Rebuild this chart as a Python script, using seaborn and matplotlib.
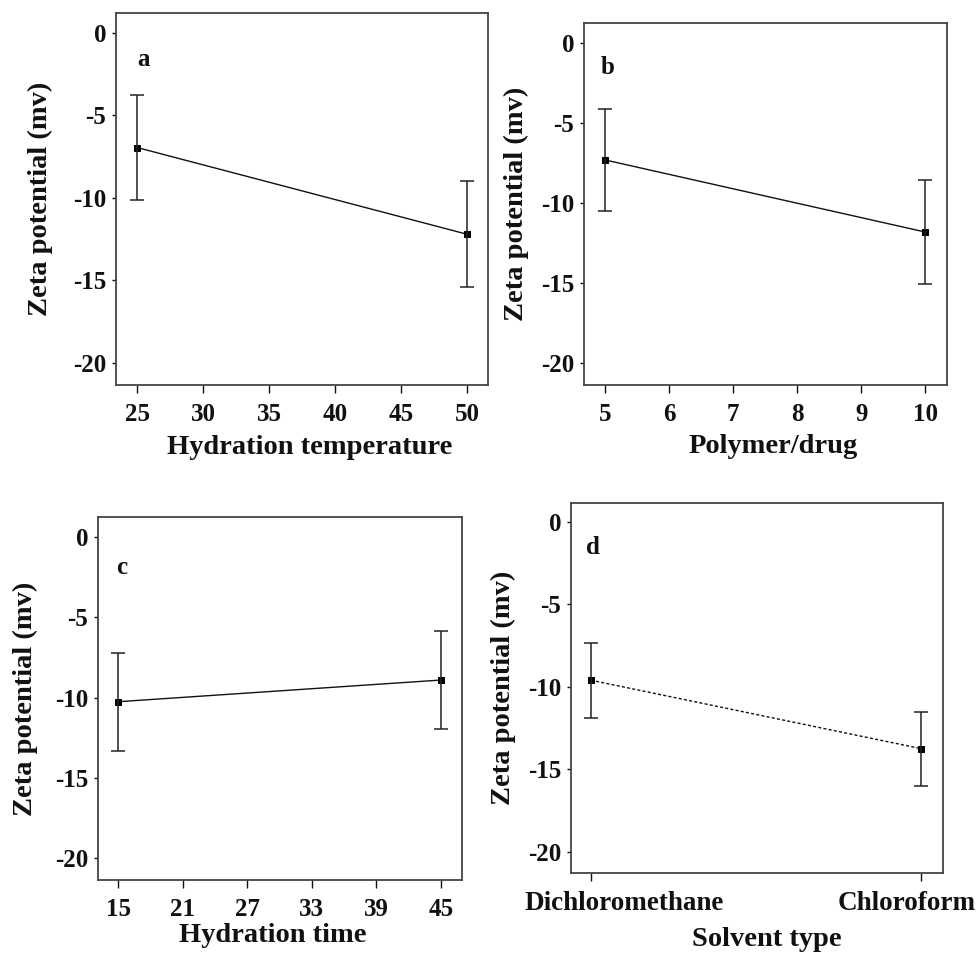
import matplotlib
matplotlib.use("Agg")
import matplotlib.pyplot as plt
import matplotlib.transforms as mtransforms
import seaborn as sns
import numpy as np

# ---- data ----
temp_x = [25, 50]
temp_y = [-6.95, -12.2]
temp_err = [3.2, 3.2]

ratio_x = [5, 10]
ratio_y = [-7.3, -11.8]
ratio_err = [3.2, 3.25]

time_x = [15, 45]
time_y = [-10.25, -8.9]
time_err = [3.05, 3.05]

solvents = ["Dichloromethane", "Chloroform"]
solvent_y = [-9.6, -13.75]
solvent_err = [2.27, 2.25]

yticks = [0, -5, -10, -15, -20]
temp_ticks = [25, 30, 35, 40, 45, 50]
ratio_ticks = [5, 6, 7, 8, 9, 10]
time_ticks = [15, 21, 27, 33, 39, 45]

sns.set_theme(style="white")
plt.rcParams['font.family'] = ['Liberation Serif', 'DejaVu Serif']
plt.rcParams['font.weight'] = 'bold'
plt.rcParams['axes.unicode_minus'] = False

fig = plt.figure(figsize=(9.8, 9.6), dpi=100)

panels = [
    dict(rect=[0.1184, 0.599, 0.3796, 0.3875], x=temp_x, y=temp_y, err=temp_err,
         xticks=temp_ticks, xlim=(23.4, 51.6), ylim=(-21.33, 1.2), letter="a",
         xlabel="Hydration temperature", ls="-", lpos=(0.075, 0.876),
         xl=(0.52, -0.167), yl=-0.204),
    dict(rect=[0.5959, 0.599, 0.3704, 0.377], x=ratio_x, y=ratio_y, err=ratio_err,
         xticks=ratio_ticks, xlim=(4.67, 10.34), ylim=(-21.35, 1.25), letter="b",
         xlabel="Polymer/drug", ls="-", lpos=(0.066, 0.876),
         xl=(0.52, -0.171), yl=-0.185),
    dict(rect=[0.1, 0.0833, 0.3714, 0.378], x=time_x, y=time_y, err=time_err,
         xticks=time_ticks, xlim=(13.14, 46.95), ylim=(-21.35, 1.24), letter="c",
         xlabel="Hydration time", ls="-", lpos=(0.066, 0.862),
         xl=(0.48, -0.152), yl=-0.2),
    dict(rect=[0.5827, 0.0906, 0.3796, 0.3854], x=solvents, y=solvent_y, err=solvent_err,
         xticks=None, xlim=(-0.06, 1.067), ylim=(-21.3, 1.15), letter="d",
         xlabel="Solvent type", ls=(0, (2.2, 1.6)), lpos=(0.059, 0.881),
         xl=(0.527, -0.181), yl=-0.183),
]

for p in panels:
    ax = fig.add_axes(p["rect"])
    sns.lineplot(x=p["x"], y=p["y"], ax=ax, color="#111111", linewidth=1.0,
                 linestyle=p["ls"], marker="s", markersize=5, markeredgecolor="black",
                 markerfacecolor="black", sort=False)
    ax.errorbar(p["x"], p["y"], yerr=p["err"], fmt="none", ecolor="#222222",
                elinewidth=1.1, capsize=5, capthick=1.1)
    ax.set_xlim(*p["xlim"])
    ax.set_ylim(*p["ylim"])
    ax.set_yticks(yticks)
    if p["xticks"] is not None:
        ax.set_xticks(p["xticks"])
    ax.tick_params(axis="y", direction="out", length=3, width=1, pad=4,
                   labelsize=18, colors="#111111", left=True)
    ax.tick_params(axis="x", direction="out", length=6, width=1, pad=7,
                   labelsize=18, colors="#111111", bottom=True)
    for lab in ax.get_xticklabels() + ax.get_yticklabels():
        lab.set_fontweight("bold")
    if p["letter"] == "d":
        offsets = [33, -14]
        for lab, dx in zip(ax.get_xticklabels(), offsets):
            lab.set_fontsize(19.5)
            lab.set_transform(lab.get_transform() +
                              mtransforms.ScaledTranslation(dx / 100, 0, fig.dpi_scale_trans))
    for s in ax.spines.values():
        s.set_visible(True)
        s.set_color("#444444")
        s.set_linewidth(1.3)
    ax.set_xlabel(p["xlabel"], fontsize=20.5, fontweight="bold", va="center", color="#111111")
    ax.set_ylabel("Zeta potential (mv)", fontsize=20.5, fontweight="bold", va="center",
                  color="#111111")
    ax.xaxis.set_label_coords(*p["xl"])
    ax.yaxis.set_label_coords(p["yl"], 0.5)
    ax.text(p["lpos"][0], p["lpos"][1], p["letter"], transform=ax.transAxes,
            fontsize=18, fontweight="bold", ha="center", va="center", color="#111111")
    ax.grid(False)

fig.savefig("out.png", dpi=100)
